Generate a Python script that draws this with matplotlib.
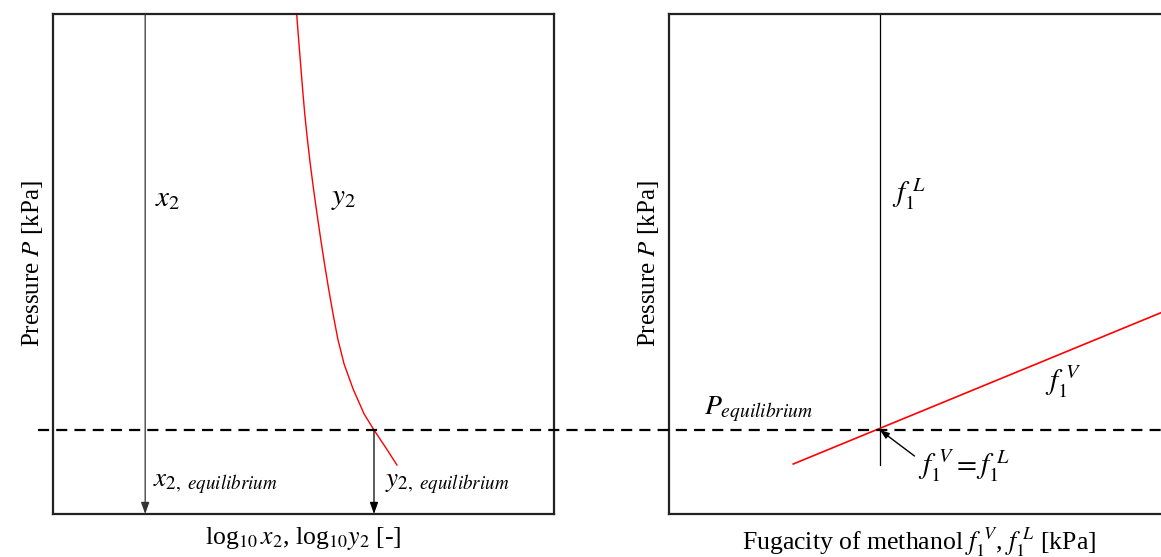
import matplotlib
matplotlib.use("Agg")
import matplotlib.pyplot as plt
from matplotlib.lines import Line2D
from matplotlib.transforms import blended_transform_factory

plt.rcParams["font.family"] = ["Liberation Serif", "DejaVu Serif"]
plt.rcParams["mathtext.fontset"] = "stix"

# Left panel: composition vs pressure (schematic units 0-10)
x2_level = 1.84
y2_pressure = [10.0, 9.5, 9.0, 8.5, 8.0, 7.5, 7.0, 6.5, 6.0, 5.5, 5.0, 4.5,
               4.0, 3.5, 3.0, 2.5, 2.0, 1.68, 1.3, 0.98]
y2_log = [4.864, 4.902, 4.942, 4.982, 5.025, 5.077, 5.135, 5.20, 5.27, 5.343,
          5.42, 5.502, 5.59, 5.685, 5.81, 5.99, 6.21, 6.407, 6.66, 6.865]
p_equilibrium = 1.68
y2_equilibrium = 6.407

# Right panel: fugacities vs pressure
f1L_level = 4.21
f1L_pressure = [10.0, 0.98]
f1V_values = [2.48, 10.0]
f1V_pressure = [1.0, 4.1]
f_cross = 4.21

fig = plt.figure(figsize=(11.61, 5.57), dpi=100)
ax1 = fig.add_axes([53 / 1161, 43 / 557, 501 / 1161, 500 / 557])
ax2 = fig.add_axes([669 / 1161, 43 / 557, 501 / 1161, 500 / 557])

for ax in (ax1, ax2):
    ax.set_xlim(0, 10)
    ax.set_ylim(0, 10)
    ax.set_xticks([])
    ax.set_yticks([])
    for sp in ax.spines.values():
        sp.set_linewidth(1.6)
        sp.set_color("#222222")
    ax.set_ylabel("Pressure $P$ [kPa]", fontsize=18, labelpad=6)

ax2.spines["right"].set_visible(False)

arrow_kw = dict(arrowstyle="-|>,head_length=0.7,head_width=0.25",
                color="black", lw=0.9, shrinkA=0, shrinkB=0)

# Left panel
ax1.annotate("", xy=(x2_level, 0), xytext=(x2_level, 10),
             arrowprops=dict(arrow_kw, color="#333333"))
ax1.plot(y2_log, y2_pressure, color="red", lw=1.0)
ax1.annotate("", xy=(y2_equilibrium, 0), xytext=(y2_equilibrium, p_equilibrium),
             arrowprops=arrow_kw)
ax1.text(x2_level + 0.2, 6.3, "$x_2$", fontsize=21, va="center", ha="left")
ax1.text(5.55, 6.3, "$y_2$", fontsize=21, va="center", ha="left")
ax1.text(x2_level + 0.15, 0.62, "$x_{2,\\ equilibrium}$", fontsize=19.5,
         va="center", ha="left")
ax1.text(y2_equilibrium + 0.22, 0.62, "$y_{2,\\ equilibrium}$", fontsize=19.5,
         va="center", ha="left")
ax1.set_xlabel("log$_{10}\\,x_2$, log$_{10}y_2$ [-]", fontsize=18.5, labelpad=8)

# Right panel
ax2.plot([f1L_level, f1L_level], f1L_pressure, color="black", lw=0.9)
ax2.plot(f1V_values, f1V_pressure, color="red", lw=1.2)
ax2.text(f1L_level + 0.25, 6.4, "$f_1^{\\ L}$", fontsize=21, va="center", ha="left")
ax2.text(7.5, 2.65, "$f_1^{\\ V}$", fontsize=21, va="center", ha="left")
ax2.text(0.7, 2.1, "$P_{equilibrium}$", fontsize=20, va="center", ha="left")
ax2.annotate("", xy=(f_cross, p_equilibrium), xytext=(4.9, 1.16),
             arrowprops=dict(arrowstyle="-|>,head_length=0.55,head_width=0.2",
                             color="black", lw=1.0, shrinkA=0, shrinkB=0))
ax2.text(4.98, 0.97, "$f_1^{\\ V}=f_1^{\\ L}$", fontsize=21, va="center", ha="left")
ax2.set_xlabel("Fugacity of methanol $f_1^{\\ V}$, $f_1^{\\ L}$ [kPa]",
               fontsize=18.5, labelpad=8)

# Equilibrium pressure line across both panels
tr = blended_transform_factory(fig.transFigure, ax1.transData)
fig.add_artist(Line2D([38 / 1161, 1.0], [p_equilibrium, p_equilibrium],
                      transform=tr, color="black", lw=1.6,
                      linestyle=(0, (5, 3.2)), zorder=5))

fig.savefig("out.png", dpi=100)
